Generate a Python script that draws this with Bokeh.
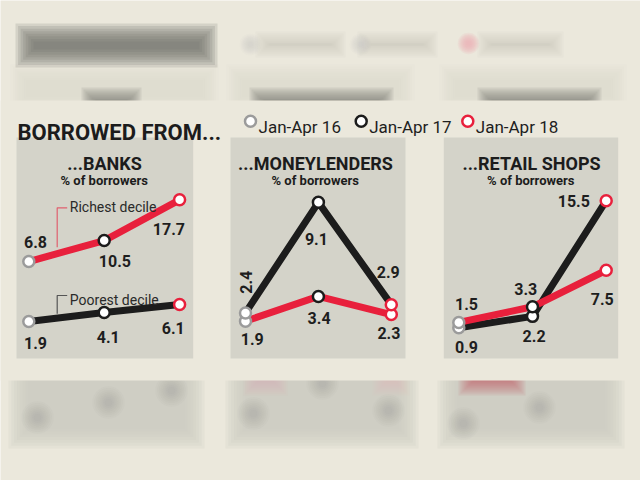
import math
from bokeh.plotting import figure
from bokeh.models import Range1d, ColumnDataSource
from bokeh.core.properties import value
from bokeh.embed import file_html
from bokeh.resources import INLINE

# ---------------- DATA ----------------
periods = ["Jan-Apr 16", "Jan-Apr 17", "Jan-Apr 18"]
banks_richest = [6.8, 10.5, 17.7]
banks_poorest = [1.9, 4.1, 6.1]
money_poorest = [2.4, 9.1, 2.9]
money_richest = [1.9, 3.4, 2.3]
retail_poorest = [0.9, 2.2, 15.5]
retail_richest = [1.5, 3.3, 7.5]
panel_titles = ["...BANKS", "...MONEYLENDERS", "...RETAIL SHOPS"]
subtitle = "% of borrowers"
main_title = "BORROWED FROM..."
annot_rich = "Richest decile"
annot_poor = "Poorest decile"

# ---------------- STYLE / LAYOUT ----------------
W, H = 640, 480
BG = "#ebe8dc"
BOX = "#d4d3c9"
RED = "#e8203c"
BLACK = "#1c1c1c"
GREY = "#9b9b9b"
period_colors = [GREY, BLACK, RED]
FONT = value("Roboto")

p = figure(width=W, height=H, x_range=Range1d(0, W), y_range=Range1d(H, 0),
           output_backend="svg", toolbar_location=None, min_border=0,
           x_axis_type=None, y_axis_type=None,
           background_fill_color=BG, border_fill_color=BG, outline_line_color=None)
p.grid.visible = False


def soft_quad(x0, x1, y0, y1, color, alpha, spread=8, steps=8):
    a = 1 - (1 - alpha) ** (1.0 / steps)
    for k in range(steps):
        e = spread * (1 - 2.0 * k / (steps - 1))
        p.quad(left=[x0 - e], right=[x1 + e], top=[y0 - e], bottom=[y1 + e],
               fill_color=color, fill_alpha=a, line_color=None)


def soft_circle(x, y, r, color, alpha, steps=8):
    a = 1 - (1 - alpha) ** (1.0 / steps)
    for k in range(steps):
        rr = r * (1.8 - k * 0.2)
        p.circle(x=[x], y=[y], radius=rr, fill_color=color, fill_alpha=a, line_color=None)


# blurred photo strips above and below (decoration)
for (x0, x1) in [(18, 210), (234, 406), (447, 618)]:
    soft_quad(x0, x1, 72, 104, "#d4d3c9", 0.45, spread=8)
soft_quad(24, 208, 32, 58, "#6f6e68", 0.8, spread=9)
for (x0, x1) in [(262, 338), (364, 430), (484, 556)]:
    soft_quad(x0, x1, 38, 50, "#b8b7ae", 0.45, spread=7)
for cx in [250, 360]:
    soft_circle(cx, 44, 6, "#c4c3ba", 0.4)
soft_circle(468, 43, 6, "#eeb0b6", 0.75)
for (x0, x1) in [(88, 134), (256, 386), (484, 594)]:
    soft_quad(x0, x1, 94, 106, "#77766f", 0.7, spread=7)

for (x0, x1) in [(18, 194), (235, 408), (447, 614)]:
    soft_quad(x0, x1, 360, 438, "#cdccc2", 0.85, spread=10)
for (cx, cy) in [(37, 417), (108, 402), (171, 390), (253, 413), (322, 383),
                 (388, 410), (463, 423), (539, 407)]:
    soft_circle(cx, cy, 9, "#8d8c86", 0.3)
soft_quad(465, 518, 372, 388, "#c0485a", 0.55, spread=7)
soft_quad(250, 280, 372, 388, "#e0a0a8", 0.4, spread=7)
soft_quad(379, 402, 372, 388, "#e6b0b4", 0.35, spread=7)

# sharp band
p.quad(left=[0], right=[W], top=[100], bottom=[380], fill_color=BG, line_color=None)

# panel boxes
box_x = [(16, 192.7), (230, 405), (443.3, 617.7)]
for (x0, x1) in box_x:
    p.quad(left=[x0], right=[x1], top=[137], bottom=[358], fill_color=BOX, line_color=None)

# ---------------- SCALES (pixel mapping per panel) ----------------
def xr(x0, dx):
    return Range1d(-x0 / dx, (W - x0) / dx)


def yr(c, s):
    return Range1d((c - H) / s, c / s)


p.extra_x_ranges = {
    "bx": xr(28.3, 75.4),
    "mx": xr(245.0, 72.9),
    "rx": xr(458.3, 73.7),
}
p.extra_y_ranges = {
    "by_rich": yr(299.5, 5.66),
    "by_poor": yr(328.7, 4.05),
    "my": yr(352.0, 16.5),
    "ry": yr(335.0, 8.7),
}

idx = list(range(len(periods)))

# label offsets (screen px) relative to each point
off = {
    "banks_rich": [(6.7, -20), (10.7, 20.3), (-10.7, 29)],
    "banks_poor": [(6.7, 21.7), (4, 24.3), (-6.3, 23.7)],
    "money_poor": [(0, -30.7), (-2, 37), (-3, -32.7)],
    "money_rich": [(6.7, 18), (0.7, 21.3), (-2.4, 18.3)],
    "retail_poor": [(7.7, 19), (1.6, 20), (-32.4, 0.7)],
    "retail_rich": [(7.7, -18), (-6.7, -17.7), (-4, 28.3)],
}
angles = {"money_poor": [math.pi / 2, 0, 0]}

# key, values, line colour, x range, y range
series = [
    ("banks_poor", banks_poorest, BLACK, "bx", "by_poor"),
    ("banks_rich", banks_richest, RED, "bx", "by_rich"),
    ("money_poor", money_poorest, BLACK, "mx", "my"),
    ("money_rich", money_richest, RED, "mx", "my"),
    ("retail_poor", retail_poorest, BLACK, "rx", "ry"),
    ("retail_rich", retail_richest, RED, "rx", "ry"),
]
# marker drawing order (upper series last)
marker_order = ["banks_poor", "banks_rich", "money_rich", "money_poor", "retail_poor", "retail_rich"]

# annotation leader lines (decoration)
p.line(x=[66.7, 56.7, 56.7], y=[207.3, 207.3, 246.7], line_color="#e0606f", line_width=1.2)
p.line(x=[66.7, 56.7, 56.7], y=[295, 295, 313.3], line_color="#555555", line_width=1.2)

srcs = {}
for key, vals, col, xn, yn in series:
    src = ColumnDataSource(dict(
        x=idx, y=vals, color=period_colors,
        label=[f"{v:.1f}" for v in vals],
        ox=[o[0] for o in off[key]], oy=[o[1] for o in off[key]],
        ang=angles.get(key, [0] * len(vals)),
    ))
    srcs[key] = (src, xn, yn)
    p.line(x="x", y="y", source=src, line_color=col, line_width=7,
           x_range_name=xn, y_range_name=yn)

for key in marker_order:
    src, xn, yn = srcs[key]
    p.scatter(x="x", y="y", source=src, size=11, fill_color="white",
              line_color="color", line_width=2.5, x_range_name=xn, y_range_name=yn)

for key in marker_order:
    src, xn, yn = srcs[key]
    p.text(x="x", y="y", text="label", source=src, x_offset="ox", y_offset="oy",
           angle="ang", text_align="center", text_baseline="middle",
           text_font=FONT, text_font_style="bold", text_font_size="16px",
           text_color="#1e1e1e", x_range_name=xn, y_range_name=yn)

# titles
p.text(x=[17], y=[131.7], text=[main_title], text_font=FONT, text_font_style="bold",
       text_font_size="22px", text_color=BLACK, text_baseline="alphabetic")

leg_x = [250, 360.7, 467.3]
p.scatter(x=leg_x, y=[120.7] * 3, size=11, fill_color="white",
          line_color=period_colors, line_width=2.5)
p.text(x=[x + 8 for x in leg_x], y=[126.7] * 3, text=periods, text_font=FONT,
       text_font_size="17px", text_color="#1e1e1e", text_baseline="alphabetic")

p.text(x=[104, 315, 531], y=[163.3] * 3, text=panel_titles, text_font=FONT,
       text_font_style="bold", text_font_size="18px", text_color=BLACK,
       text_align="center", text_baseline="alphabetic")
p.text(x=[103.7, 314.7, 530.3], y=[180] * 3, text=[subtitle] * 3, text_font=FONT,
       text_font_style="bold", text_font_size="13px", text_color=BLACK,
       text_align="center", text_baseline="alphabetic")

p.text(x=[69.3, 69.3], y=[206.7, 299.3], text=[annot_rich, annot_poor], text_font=FONT,
       text_font_size="14px", text_color="#2a2a2a", text_baseline="alphabetic")

open("out.html", "w").write(file_html(p, INLINE))
